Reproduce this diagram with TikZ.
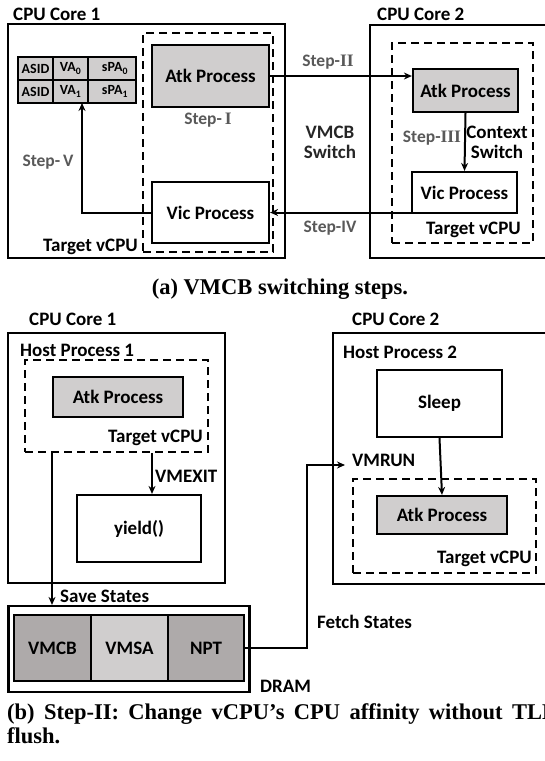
\documentclass[tikz,border=0pt]{standalone}
\usepackage{fontspec}
\setmainfont{Carlito}
\newfontfamily\capfont{Liberation Serif}
\usetikzlibrary{arrows.meta}
\definecolor{stepgray}{RGB}{89,89,89}
\definecolor{lightcell}{RGB}{208,206,206}
\definecolor{darkcell}{RGB}{174,170,170}
\newcommand\lblf{\fontsize{19}{21}\selectfont\bfseries}
\newcommand\stpf{\fontsize{17.5}{19}\selectfont\bfseries}
\newcommand\tlbf{\fontsize{14}{15}\selectfont\bfseries}
\newcommand\romn[1]{{\capfont\bfseries #1}}
\newcommand\bx[6]{\node[#1, minimum width=#4pt, minimum height=#5pt] (#2) at (#3) {#6};}
\tikzset{
  box/.style={draw, line width=2.2pt, inner sep=0pt, font=\lblf},
  dbox/.style={draw, line width=2pt, dash pattern=on 8pt off 5pt, inner sep=0pt},
  lbl/.style={inner sep=0pt, font=\lblf},
  steplbl/.style={inner sep=0pt, font=\stpf, text=stepgray},
  cell/.style={draw, line width=1.8pt, inner sep=0pt, font=\tlbf, fill=lightcell},
  arr/.style={line width=2pt, -{Stealth[length=8pt,width=7pt]}},
  capstyle/.style={inner sep=0pt, font=\capfont\fontsize{22.5}{26}\selectfont\bfseries}
}
\begin{document}
\begin{tikzpicture}[x=1pt,y=-1pt]
\useasboundingbox (0,0) rectangle (544,761);
% ---------------- (a) ----------------
\node[lbl, anchor=west] (c1a) at (13,14) {CPU Core 1};
\node[lbl, anchor=west] (c2a) at (377,14) {CPU Core 2};
\bx{box}{core1a}{146.5,141}{277}{234}{}
\bx{dbox}{dash1a}{208,142.5}{130}{219}{}
\bx{box, fill=lightcell}{atk1a}{210.5,76}{117}{62}{Atk Process}
\bx{box}{vic1a}{210.5,212.5}{117}{61}{Vic Process}
% TLB table
\bx{cell}{t11}{35.5,68.5}{35}{23}{ASID}
\bx{cell}{t12}{70.5,68.5}{35}{23}{VA\textsubscript{0}}
\bx{cell}{t13}{112,68.5}{48}{23}{\hspace*{6pt}sPA\textsubscript{0}}
\bx{cell}{t21}{35.5,91.5}{35}{23}{ASID}
\bx{cell}{t22}{70.5,91.5}{35}{23}{VA\textsubscript{1}}
\bx{cell}{t23}{112,91.5}{48}{23}{\hspace*{6pt}sPA\textsubscript{1}}
\coordinate (tlbin) at (82,103);
\node[steplbl] (s1) at (208,120) {Step-\,\romn{I}};
\node[steplbl] (s5) at (48,162) {Step-\,V};
\node[lbl, anchor=east] (tv1a) at (138,247) {Target vCPU};
% core 2
\bx{box}{core2a}{465,141.5}{190}{233}{}
\bx{dbox}{dash2a}{462.5,143}{141}{200}{}
\bx{box, fill=lightcell}{atk2a}{465.5,90.5}{105}{43}{Atk Process}
\bx{box}{vic2a}{464.5,192.5}{105}{41}{Vic Process}
\node[lbl, anchor=east] (tv2a) at (521,230) {Target vCPU};
\node[steplbl] (s3) at (432,138) {Step-\romn{III}};
\node[lbl, align=center] (cs) at (497,142) {Context\\[-1pt]Switch};
\node[steplbl] (s2) at (328,62) {Step-\romn{II}};
\node[lbl, align=center, text=black!85] (vs) at (330,142) {VMCB\\[-1pt]Switch};
\node[steplbl] (s4) at (330,228) {Step-IV};
% connectors (a)
\draw[arr] (atk1a.east) -- (atk1a.east -| atk2a.west);
\draw[arr] (atk2a.south) -- (vic2a.north);
\draw[arr] (vic1a.east -| vic2a.west) -- (vic1a.east);
\draw[arr] (vic1a.west) -| (tlbin);
\node[capstyle] (capa) at (280,289) {(a) VMCB switching steps.};
% ---------------- (b) ----------------
\node[lbl, anchor=west] (c1b) at (29,319) {CPU Core 1};
\node[lbl, anchor=west] (c2b) at (352,319) {CPU Core 2};
\bx{box}{core1b}{116.5,458}{217}{250}{}
\bx{dbox}{dash1b}{116.5,406}{183}{92}{}
\node[lbl, anchor=west] (hp1) at (20,350) {Host Process 1};
\bx{box, fill=lightcell}{atk1b}{118,397}{130}{40}{Atk Process}
\node[lbl, anchor=east] (tv1b) at (203,438) {Target vCPU};
\bx{box}{yield}{139,528.5}{124}{67}{yield()}
\coordinate (vx) at (152,0);
\coordinate (sx) at (52,0);
\draw[arr] (dash1b.south -| vx) -- (yield.north -| vx);
\node[lbl, anchor=west] (vmexit) at (155,476) {VMEXIT};
% DRAM
\bx{box}{dram}{129,649}{241}{86}{}
\bx{box, fill=darkcell}{vmcb}{52.5,648}{77}{66}{VMCB}
\bx{box, fill=lightcell}{vmsa}{129.5,648}{77}{66}{VMSA}
\bx{box, fill=darkcell}{npt}{206,648}{76}{66}{NPT}
\node[lbl, anchor=west] (dramlbl) at (260,686) {DRAM};
\draw[arr] (dash1b.south -| sx) -- (dram.north -| sx);
\node[lbl, anchor=west] (save) at (60,596) {Save States};
% core 2 (b)
\bx{box}{core2b}{446.5,458.5}{227}{251}{}
\node[lbl, anchor=west] (hp2) at (343,352) {Host Process 2};
\bx{box}{sleep}{439.5,403.5}{125}{67}{Sleep}
\bx{dbox}{dash2b}{444.5,526}{183}{94}{}
\bx{box, fill=lightcell}{atk2b}{442,515}{130}{38}{Atk Process}
\node[lbl, anchor=east] (tv2b) at (532,559) {Target vCPU};
\draw[arr] (sleep.south) -- (atk2b.north);
\coordinate (vmin) at (345,465);
\coordinate (fx) at (307,0);
\draw[arr] (npt.east) -| (fx |- vmin) -- (vmin);
\node[lbl, anchor=west] (vmrun) at (352,460) {VMRUN};
\node[lbl, anchor=west] (fetch) at (317,622) {Fetch States};
\node[capstyle, anchor=west] (capb1) at (7,714) {\hbox to 550pt{(b)\hfill Step-II:\hfill Change\hfill vCPU’s\hfill CPU\hfill affinity\hfill without\hfill TLB}};
\node[capstyle, anchor=west] (capb2) at (7,736) {flush.};
\end{tikzpicture}
\end{document}
